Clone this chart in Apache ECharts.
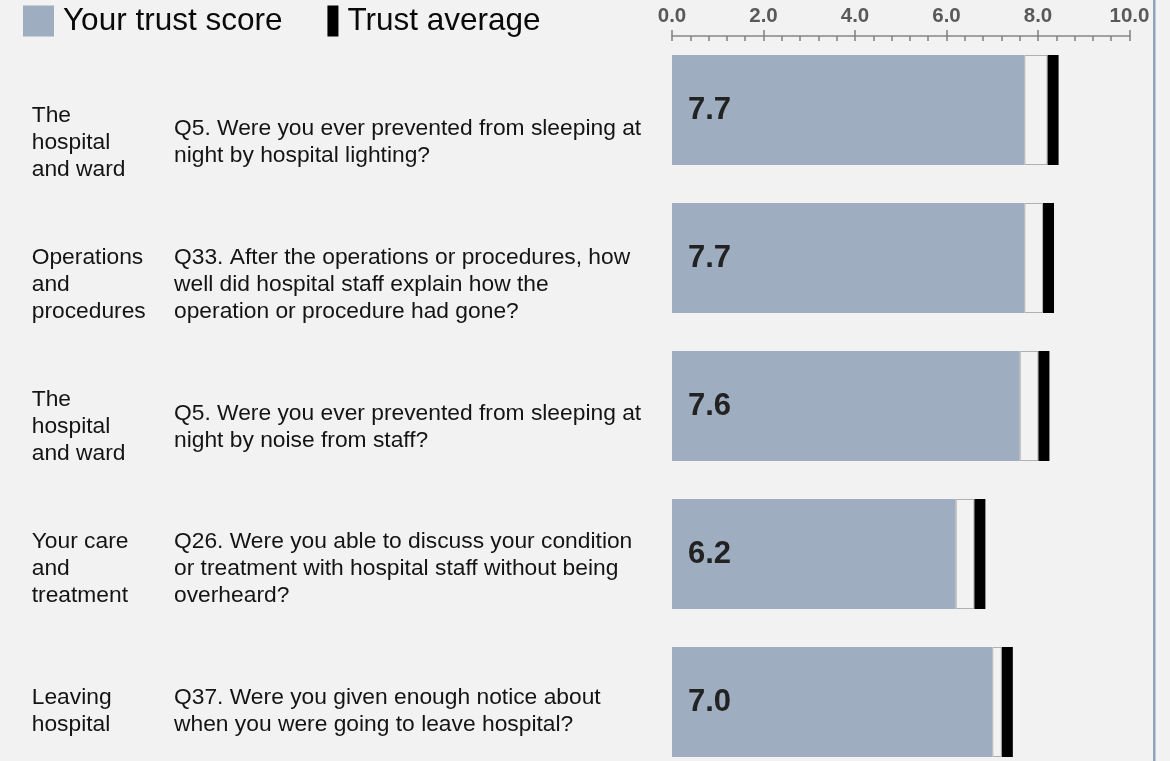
<!DOCTYPE html>
<html>
<head>
<meta charset="utf-8">
<title>Trust score</title>
<script src="https://cdn.jsdelivr.net/npm/echarts@6/dist/echarts.min.js"></script>
<style>
html,body{margin:0;padding:0;background:#f2f2f2;}
#main{width:1170px;height:761px;}
</style>
</head>
<body>
<div id="main"></div>
<script>
// section names and questions, top to bottom
var sections = [
	'The\nhospital\nand ward',
	'Operations\nand\nprocedures',
	'The\nhospital\nand ward',
	'Your care\nand\ntreatment',
	'Leaving\nhospital'
];
var questions = [
	'Q5. Were you ever prevented from sleeping at\nnight by hospital lighting?',
	'Q33. After the operations or procedures, how\nwell did hospital staff explain how the\noperation or procedure had gone?',
	'Q5. Were you ever prevented from sleeping at\nnight by noise from staff?',
	'Q26. Were you able to discuss your condition\nor treatment with hospital staff without being\noverheard?',
	'Q37. Were you given enough notice about\nwhen you were going to leave hospital?'
];
var trustScore = [7.7, 7.7, 7.6, 6.2, 7.0];
var trustAverage = [8.3, 8.2, 8.1, 6.7, 7.3];
var xTicks = [0, 2, 4, 6, 8, 10];

// the black average marker is a short stacked segment (axis units)
var MARK_BEFORE = 0.09;
var MARK_WIDTH = 0.24;

var gap = [];
var mark = [];
for (var i = 0; i < trustScore.length; i++) {
	gap.push(+(trustAverage[i] - MARK_BEFORE - trustScore[i]).toFixed(3));
	mark.push(MARK_WIDTH);
}

var FONT = "'Liberation Sans', Arial, sans-serif";
var myChart = echarts.init(document.getElementById('main'));

var option = {
	animation: false,
	backgroundColor: '#f2f2f2',
	textStyle: {fontFamily: FONT},
	legend: {
		left: 23,
		top: 5,
		padding: 0,
		itemWidth: 31,
		itemHeight: 31,
		itemGap: 25,
		selectedMode: false,
		textStyle: {fontSize: 31.5, color: '#0a0a0a', fontFamily: FONT, padding: [2, 0, 0, 4]},
		data: [
			{name: 'Your trust score', icon: 'rect'},
			{name: 'Trust average', icon: 'path://M20,0h11v31h-11z M0,0h0.001v0.001h-0.001z'}
		]
	},
	grid: [
		{left: 672, right: 40.5, top: 36, bottom: -15, containLabel: false, outerBoundsMode: 'none'},
		{left: 660, width: 10, top: 71.6, bottom: -21.45, containLabel: false, outerBoundsMode: 'none'}
	],
	xAxis: [
		{
			type: 'value', gridIndex: 0, position: 'top',
			min: xTicks[0], max: xTicks[xTicks.length - 1], interval: 2,
			axisLine: {show: true, lineStyle: {color: '#868686', width: 1.5}},
			axisTick: {show: true, inside: false, length: 6, lineStyle: {color: '#808080', width: 1.5}},
			splitLine: {show: false},
			axisLabel: {
				margin: 9, fontSize: 20.5, fontWeight: 'bold', color: '#595959', fontFamily: FONT,
				formatter: function (v) { return v.toFixed(1); }
			}
		},
		{
			type: 'value', gridIndex: 0, position: 'top',
			min: xTicks[0], max: xTicks[xTicks.length - 1], interval: 2,
			axisLine: {show: false},
			axisTick: {show: true, inside: true, length: 5, lineStyle: {color: '#808080', width: 1.5}},
			minorTick: {show: true, splitNumber: 5, length: 5, lineStyle: {color: '#808080', width: 1.5}},
			splitLine: {show: false},
			axisLabel: {show: false}
		},
		{type: 'value', gridIndex: 1, show: false}
	],
	yAxis: [
		{
			type: 'category', gridIndex: 0, inverse: true, data: questions,
			axisLine: {show: false}, axisTick: {show: false}, axisLabel: {show: false}
		},
		{
			type: 'category', gridIndex: 1, inverse: true, position: 'left', data: sections,
			axisLine: {show: false}, axisTick: {show: false},
			axisLabel: {interval: 0, align: 'left', margin: 628.3, fontSize: 22.8, lineHeight: 27, color: '#141414', fontFamily: FONT}
		},
		{
			type: 'category', gridIndex: 1, inverse: true, position: 'left', data: questions,
			axisLine: {show: false}, axisTick: {show: false},
			axisLabel: {interval: 0, align: 'left', margin: 486, fontSize: 22.8, lineHeight: 27, color: '#141414', fontFamily: FONT}
		}
	],
	series: [
		{
			name: 'Your trust score', type: 'bar', stack: 'row', barWidth: 110,
			xAxisIndex: 0, yAxisIndex: 0, data: trustScore,
			itemStyle: {color: '#9eadc0'},
			label: {
				show: true, position: 'insideLeft', distance: 16,
				fontSize: 31, fontWeight: 'bold', color: '#222222', fontFamily: FONT,
				formatter: function (p) { return p.value.toFixed(1); }
			}
		},
		{
			name: 'gap', type: 'bar', stack: 'row', barWidth: 110,
			xAxisIndex: 0, yAxisIndex: 0, data: gap,
			itemStyle: {color: '#f2f2f2', borderColor: '#b0b0b0', borderWidth: 1}
		},
		{
			name: 'Trust average', type: 'bar', stack: 'row', barWidth: 110,
			xAxisIndex: 0, yAxisIndex: 0, data: mark,
			itemStyle: {color: '#000000'}
		}
	],
	graphic: [
		{type: 'rect', left: 1153, top: 0, shape: {width: 2.5, height: 761}, style: {fill: '#8fa2be'}, silent: true}
	]
};
myChart.setOption(option);
</script>
</body>
</html>
